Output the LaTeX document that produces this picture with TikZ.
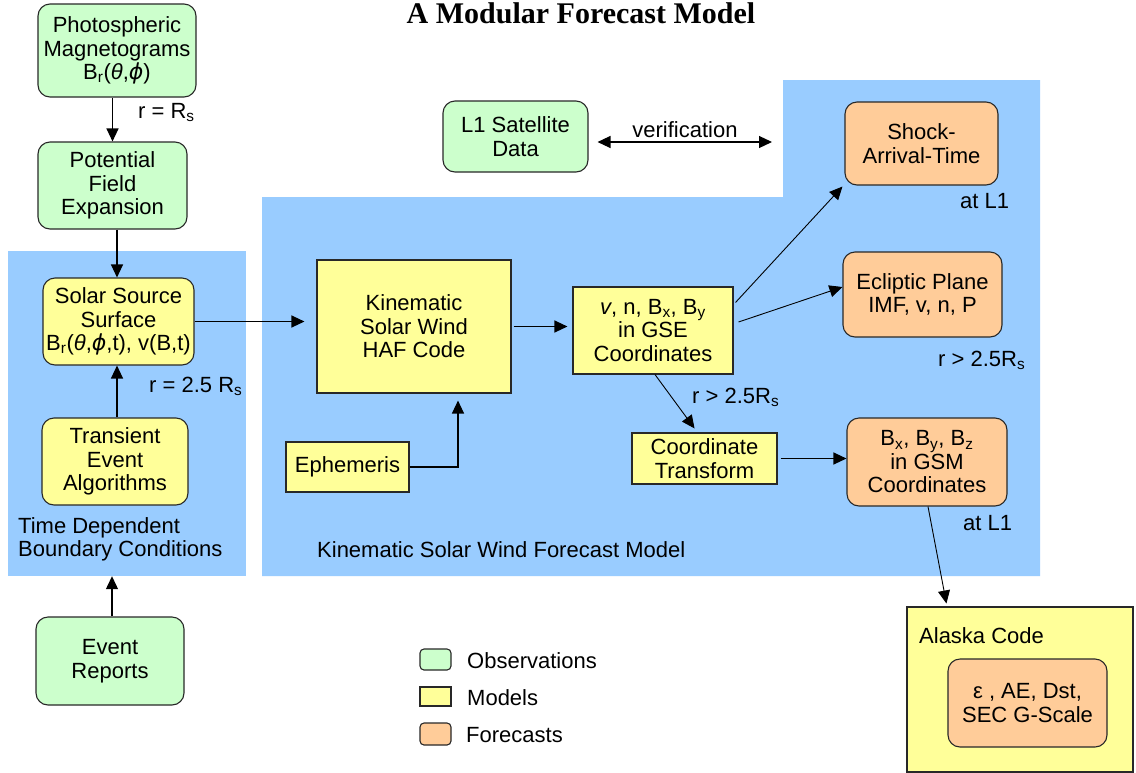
\documentclass[tikz,border=0pt]{standalone}
\usepackage{fontspec}
\setmainfont{Liberation Sans}
\newfontfamily\titlefont{Liberation Serif}
\newfontfamily\greekfont{DejaVu Sans}
\usetikzlibrary{arrows.meta}
\definecolor{obsgreen}{RGB}{204,255,204}
\definecolor{modelyellow}{RGB}{255,255,153}
\definecolor{fcstorange}{RGB}{255,204,153}
\definecolor{regionblue}{RGB}{153,204,255}
\definecolor{boxline}{RGB}{40,40,40}
\newcommand\phiv{{\greekfont\itshape ϕ}}
\begin{document}
\begin{tikzpicture}[x=1pt,y=-1pt,
  every node/.style={font=\fontsize{22}{23.5}\selectfont, inner sep=0pt},
  sz/.style 2 args={minimum width=#1pt, minimum height=#2pt},
  box/.style={draw=boxline, line width=1.1pt, align=center},
  obs/.style={box, fill=obsgreen, rounded corners=12pt},
  model/.style={box, fill=modelyellow},
  fcst/.style={box, fill=fcstorange, rounded corners=12pt},
  conn/.style={line width=1.2pt, -{Triangle[length=13pt,width=12pt]}},
  thin conn/.style={line width=0.9pt, -{Triangle[length=13pt,width=12pt]}},
  lbl/.style={anchor=base west}]

% canvas
\fill[white] (0,0) rectangle (1136,772);
\useasboundingbox (0,0) rectangle (1136,772);

% shaded regions
\node[fill=regionblue, sz={238}{325}] (lblue) at (127,413.5) {};
\fill[regionblue] (262,197) -- (783,197) -- (783,80) -- (1040,80)
  -- (1040,576) -- (262,576) -- cycle;

% title
\node[font=\titlefont\bfseries\fontsize{30}{32}\selectfont, anchor=base] (title) at (581,23) {A Modular Forecast Model};

% observations
\node[obs, sz={158}{93}] (photo) at (117,50.5) {Photospheric\\Magnetograms\\B\textsubscript{r}(\textit{θ},\phiv)};
\node[obs, sz={149}{87}] (pfe) at (112.5,185.5) {Potential\\Field\\Expansion};
\node[obs, sz={148}{88}] (event) at (110,661) {Event\\Reports};
\node[obs, sz={145}{71}] (l1) at (515.5,136.5) {L1 Satellite\\Data};

% models
\node[model, rounded corners=12pt, sz={151}{87}] (solar) at (118.5,321.5) {Solar Source\\Surface\\B\textsubscript{r}(\textit{θ},\phiv,t), v(B,t)};
\node[model, rounded corners=12pt, sz={146}{87}] (trans) at (115,461.5) {Transient\\Event\\Algorithms};
\node[model, sz={194}{133}] (haf) at (414,326.5) {Kinematic\\Solar Wind\\HAF Code};
\node[model, sz={160}{87}] (gse) at (653,330.5) {\textit{v}, n, B\textsubscript{x}, B\textsubscript{y}\\in GSE\\Coordinates};
\node[model, sz={123}{50}] (eph) at (347.5,467) {Ephemeris};
\node[model, sz={145}{51}] (ct) at (704.5,458.5) {Coordinate\\Transform};
\node[model, sz={226}{165}] (alaska) at (1020,689.5) {};

% forecasts
\node[fcst, sz={153}{83}] (shock) at (921.5,143.5) {Shock-\\Arrival-Time};
\node[fcst, sz={159}{85}] (eclip) at (922.5,294.5) {Ecliptic Plane\\IMF, v, n, P};
\node[fcst, sz={160}{88}] (gsm) at (927,462) {B\textsubscript{x}, B\textsubscript{y}, B\textsubscript{z}\\in GSM\\Coordinates};
\node[fcst, sz={159}{88}] (idx) at (1027.5,703) {ε , AE, Dst,\\SEC G-Scale};

% labels
\node[lbl] (rrs) at (138,118) {r = R\textsubscript{s}};
\node[lbl] (r25) at (149,392) {r = 2.5 R\textsubscript{s}};
\node[lbl] (tdbc1) at (18,533) {Time Dependent};
\node[lbl] (tdbc2) at (18,556) {Boundary Conditions};
\node[lbl] (kswfm) at (317,557) {Kinematic Solar Wind Forecast Model};
\node[lbl] (rgt1) at (692,403) {r > 2.5R\textsubscript{s}};
\node[lbl] (atl1a) at (960,208) {at L1};
\node[lbl] (rgt2) at (938,366) {r > 2.5R\textsubscript{s}};
\node[lbl] (atl1b) at (963,530) {at L1};
\node[lbl] (aktitle) at (919,643) {Alaska Code};
\node[anchor=base] (verif) at (685,137) {verification};

% legend
\node[box, fill=obsgreen, rounded corners=4pt, sz={31}{21}] (legobs) at (435.5,659.5) {};
\node[box, fill=modelyellow, sz={31}{19}] (legmod) at (435.5,696.5) {};
\node[box, fill=fcstorange, rounded corners=4pt, sz={31}{22}] (legfc) at (435.5,734) {};
\node[lbl] (legobst) at (467,668) {Observations};
\node[lbl] (legmodt) at (467,705) {Models};
\node[lbl] (legfct) at (466,742) {Forecasts};

% connectors
\coordinate (vend) at (772,142);
\draw[conn] (pfe.north |- photo.south) -- (pfe.north);
\draw[conn] ([xshift=4.5pt]pfe.south) -- ([xshift=4.5pt]pfe.south |- solar.north);
\draw[conn] ([xshift=2pt]trans.north) -- ([xshift=2pt]trans.north |- solar.south);
\draw[conn] ([xshift=2pt]event.north) -- ([xshift=2pt]event.north |- lblue.south);
\draw[conn, shorten >=12pt] (solar.east) -- (solar.east -| haf.west);
\draw[conn, shorten >=5pt, shorten <=2pt] (haf.east) -- (haf.east -| gse.west);
\draw[conn, shorten >=7pt] (eph.east) -| ([xshift=44pt]haf.south);
\draw[thin conn, shorten >=5pt] ([xshift=2pt]gse.south) -- ([xshift=-7pt]ct.north);
\draw[thin conn] ([xshift=2pt,yshift=-16pt]gse.north east) -- ([xshift=-2pt,yshift=-1pt]shock.south west);
\draw[thin conn] ([xshift=5pt,yshift=8.5pt]gse.east) -- ([yshift=7.5pt]eclip.west);
\draw[conn, shorten <=3pt] (ct.east) -- (ct.east -| gsm.west);
\draw[thin conn, shorten >=3pt] ([xshift=1pt]gsm.south) -- ([xshift=-73pt]alaska.north);
\draw[line width=1.2pt, {Triangle[length=13pt,width=12pt]}-{Triangle[length=13pt,width=12pt]}, shorten <=9pt] ([yshift=-5.5pt]l1.east) -- (vend);
\end{tikzpicture}
\end{document}
